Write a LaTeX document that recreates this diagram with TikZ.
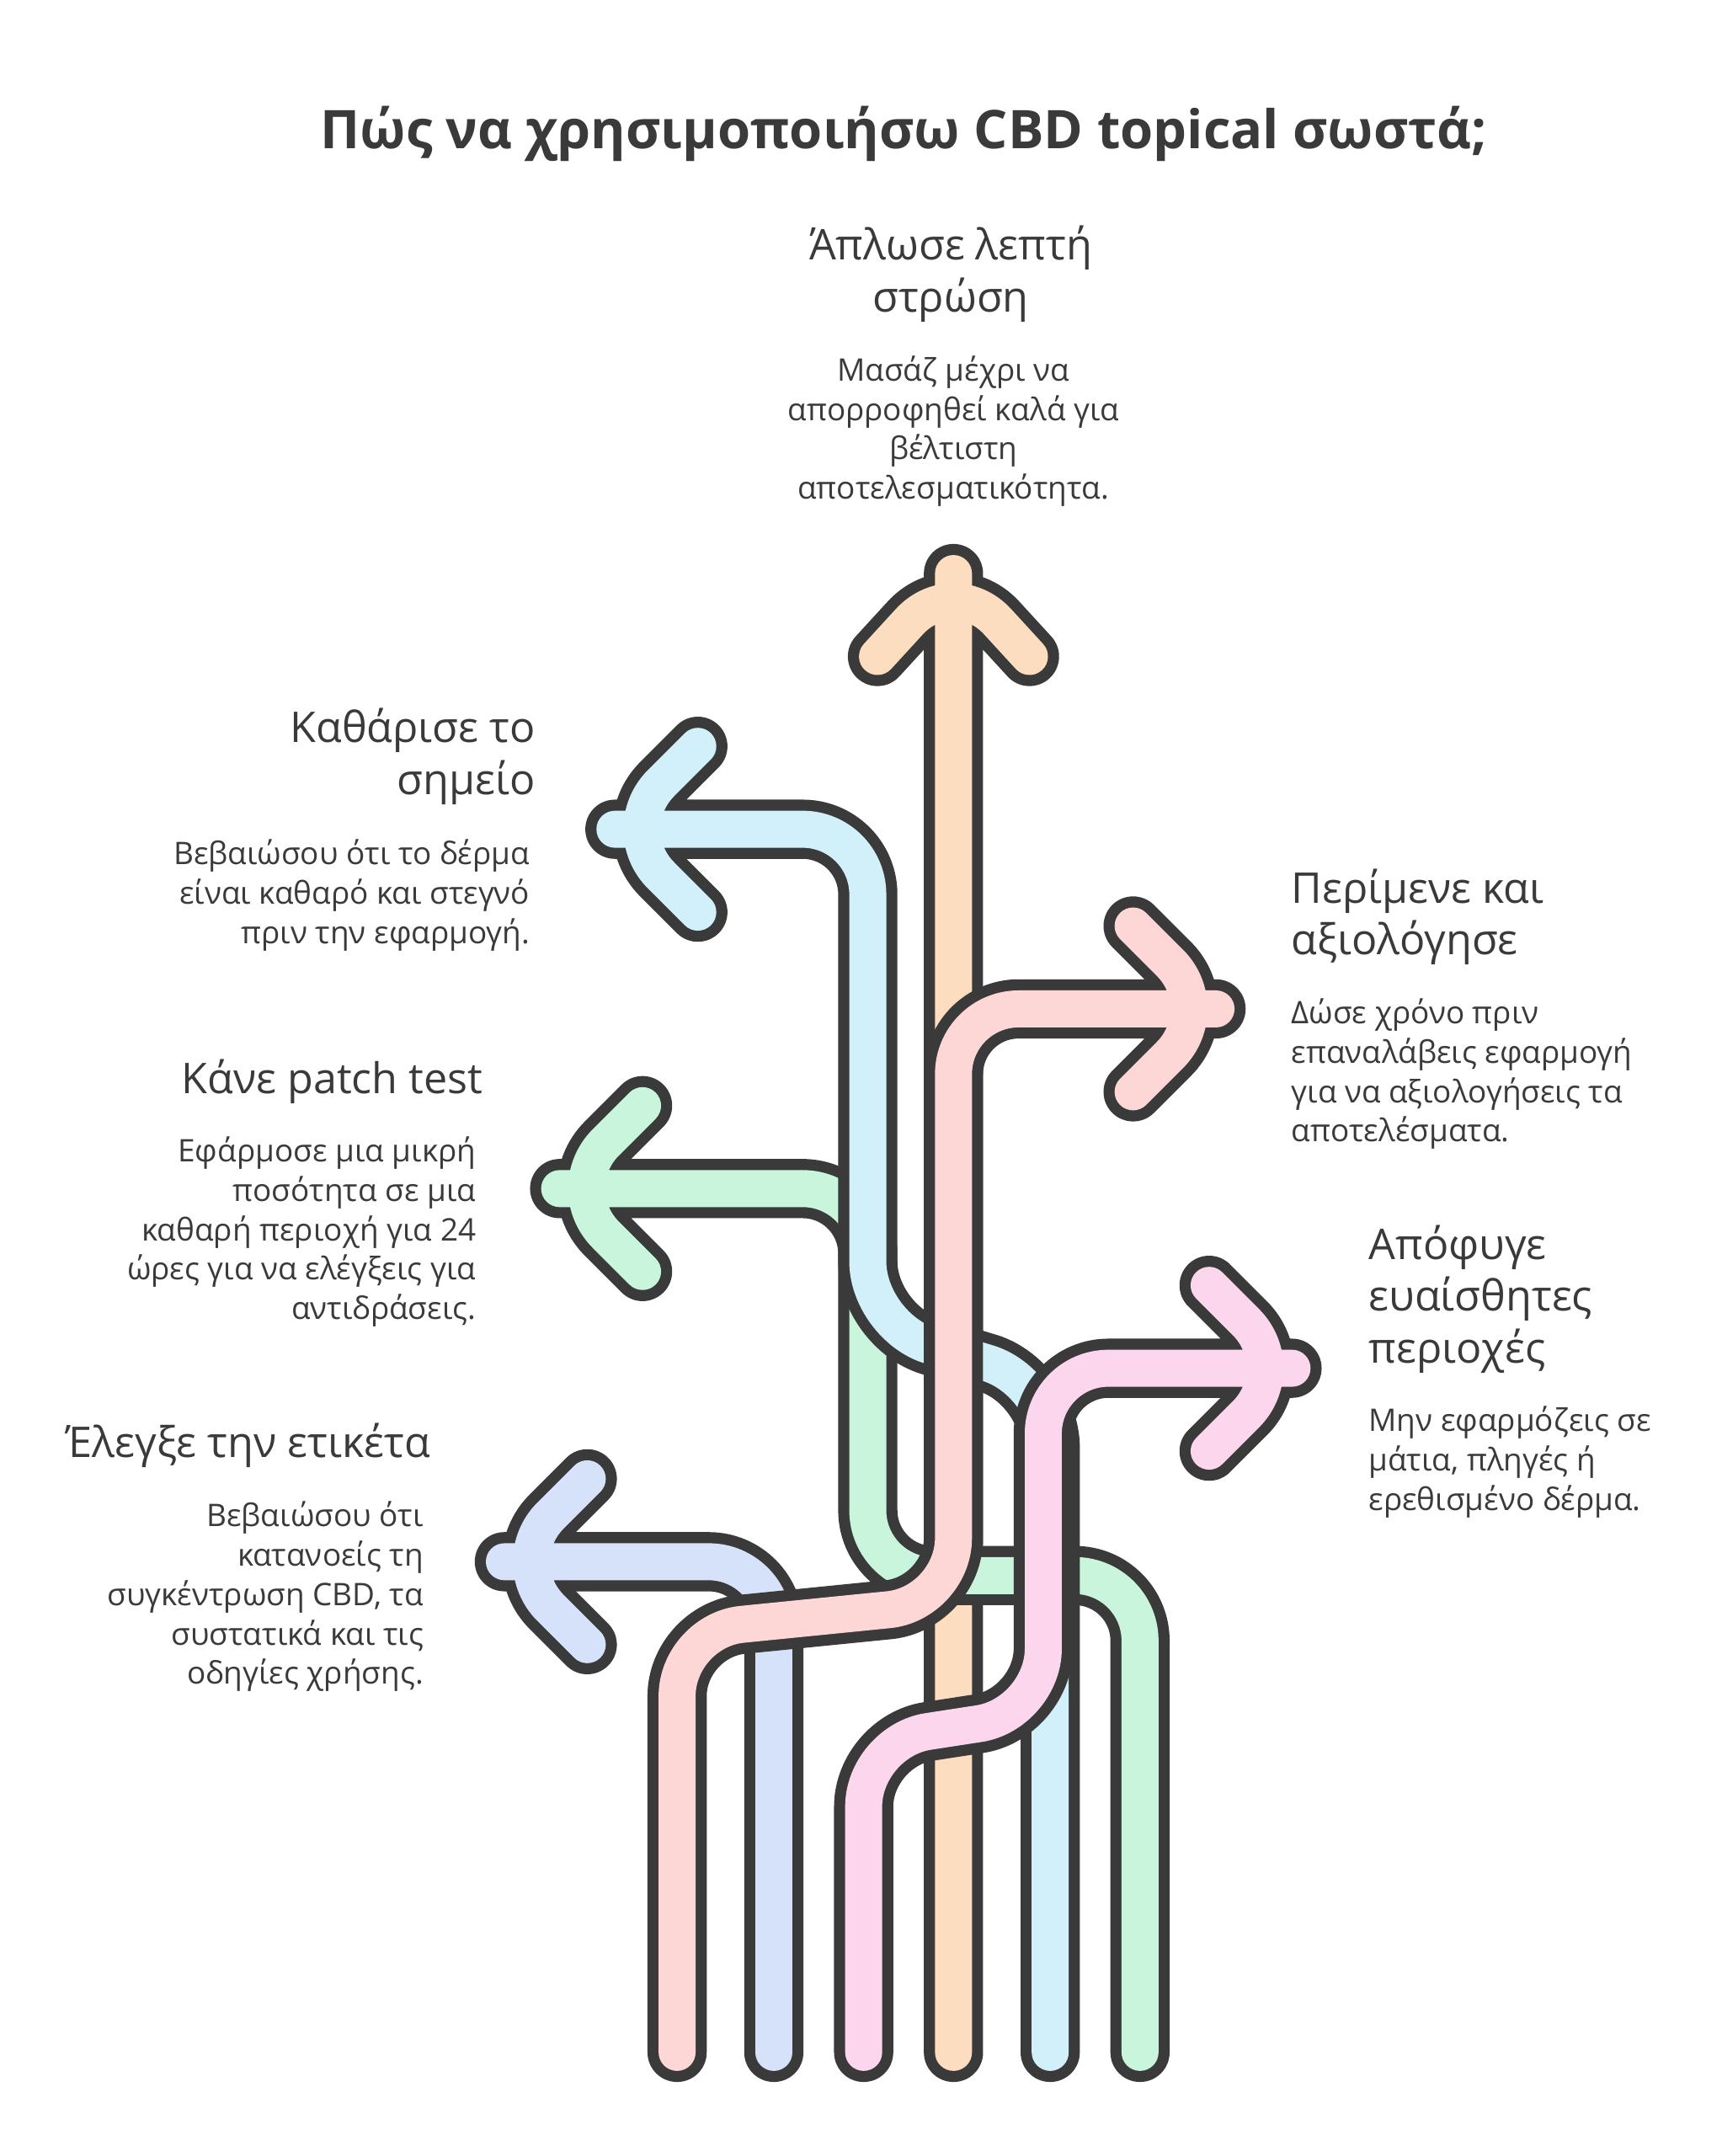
\documentclass[tikz,border=0pt]{standalone}
\usepackage{fontspec}
\setmainfont{Open Sans}
\begin{document}
\begin{tikzpicture}[x=0.0164cm,y=-0.0164cm,
 outl/.style={line width=20pt,draw=dk,line cap=round,line join=round,rounded corners=22pt},
 inl/.style={line width=12.5pt,line cap=round,line join=round,rounded corners=22pt},
 hd/.style={font=\fontsize{14.3}{17.5}\selectfont,text=dk},
 bd/.style={font=\fontsize{10.5}{13.3}\selectfont,text=dk}]
\definecolor{dk}{HTML}{3A3A3A}
\definecolor{cor}{HTML}{FCDDBF}
\definecolor{cbl}{HTML}{D2F0FA}
\definecolor{cgr}{HTML}{C8F5DC}
\definecolor{cla}{HTML}{D6E2FA}
\definecolor{cre}{HTML}{FDD6D6}
\definecolor{cpi}{HTML}{FCD6EC}
\useasboundingbox (0,0) rectangle (1246,1560);
\newcommand{\arw}[2]{\draw[outl] #2; \draw[inl,draw=#1] #2;}
\arw{cor}{(690,1485)--(690,415) (635,475)--(690,415)--(745,475)}
\arw{cla}{(560,1485)--(560,1130)--(365,1130) (425,1070)--(365,1130)--(425,1190)}
\arw{cgr}{(825,1485)--(825,1140)--(628,1140)--(628,860)--(405,860) (465,800)--(405,860)--(465,920)}
\arw{cbl}{(760,1485)--(760,1000)--(628,960)--(628,600)--(445,600) (505,540)--(445,600)--(505,660)}
\arw{cre}{(490,1485)--(490,1180)--(690,1160)--(690,730)--(880,730) (820,670)--(880,730)--(820,790)}
\arw{cpi}{(625,1485)--(625,1260)--(755,1240)--(755,990)--(935,990) (875,930)--(935,990)--(875,1050)}
\node[font=\fontsize{18}{22}\selectfont\bfseries,text=dk] (t) at (654,97) {Πώς να χρησιμοποιήσω CBD topical σωστά;};
\node[hd,align=center,anchor=north] (h1) at (688,156) {Άπλωσε λεπτή\\στρώση};
\node[bd,align=center,anchor=north] (b1) at (690,250) {Μασάζ μέχρι να\\απορροφηθεί καλά για\\βέλτιστη\\αποτελεσματικότητα.};
\node[hd,align=right,anchor=north east] (h2) at (395,505) {Καθάρισε το\\σημείο};
\node[bd,align=right,anchor=north east] (b2) at (391,600) {Βεβαιώσου ότι το δέρμα\\είναι καθαρό και στεγνό\\πριν την εφαρμογή.};
\node[hd,align=right,anchor=north east] (h3) at (357,759) {Κάνε patch test};
\node[bd,align=right,anchor=north east] (b3) at (352,815) {Εφάρμοσε μια μικρή\\ποσότητα σε μια\\καθαρή περιοχή για 24\\ώρες για να ελέγξεις για\\αντιδράσεις.};
\node[hd,align=right,anchor=north east] (h4) at (319,1022) {Έλεγξε την ετικέτα};
\node[bd,align=right,anchor=north east] (b4) at (314,1079) {Βεβαιώσου ότι\\κατανοείς τη\\συγκέντρωση CBD, τα\\συστατικά και τις\\οδηγίες χρήσης.};
\node[hd,align=left,anchor=north west] (h5) at (927,621) {Περίμενε και\\αξιολόγησε};
\node[bd,align=left,anchor=north west] (b5) at (927,715) {Δώσε χρόνο πριν\\επαναλάβεις εφαρμογή\\για να αξιολογήσεις τα\\αποτελέσματα.};
\node[hd,align=left,anchor=north west] (h6) at (983,879) {Απόφυγε\\ευαίσθητες\\περιοχές};
\node[bd,align=left,anchor=north west] (b6) at (983,1010) {Μην εφαρμόζεις σε\\μάτια, πληγές ή\\ερεθισμένο δέρμα.};
\end{tikzpicture}
\end{document}
